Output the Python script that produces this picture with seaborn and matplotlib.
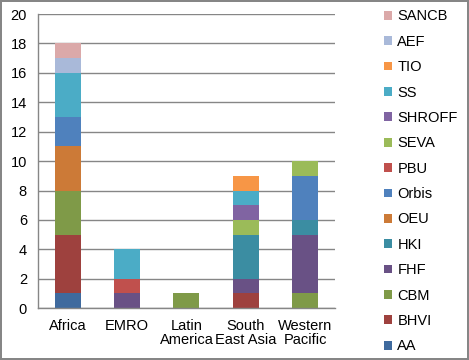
import matplotlib
matplotlib.use("Agg")
import matplotlib.pyplot as plt
from matplotlib.patches import Patch
import pandas as pd
import seaborn as sns

regions = ["Africa", "EMRO", "Latin\nAmerica", "South\nEast Asia", "Western\nPacific"]
orgs = ["AA", "BHVI", "CBM", "FHF", "HKI", "OEU", "Orbis", "PBU", "SEVA", "SHROFF", "SS", "TIO", "AEF", "SANCB"]
colors = ["#3F6A9E", "#9E413E", "#7F9A48", "#695185", "#3B8DA2", "#CC7A37", "#4F81BD",
          "#C0504D", "#9BBB59", "#8064A2", "#4BACC6", "#F79646", "#A9B9D9", "#DBA9A9"]

# counts per org, in region order
AA = [1, 0, 0, 0, 0]
BHVI = [4, 0, 0, 1, 0]
CBM = [3, 0, 1, 0, 1]
FHF = [0, 1, 0, 1, 4]
HKI = [0, 0, 0, 3, 1]
OEU = [3, 0, 0, 0, 0]
Orbis = [2, 0, 0, 0, 3]
PBU = [0, 1, 0, 0, 0]
SEVA = [0, 0, 0, 1, 1]
SHROFF = [0, 0, 0, 1, 0]
SS = [3, 2, 0, 1, 0]
TIO = [0, 0, 0, 1, 0]
AEF = [1, 0, 0, 0, 0]
SANCB = [1, 0, 0, 0, 0]
counts = [AA, BHVI, CBM, FHF, HKI, OEU, Orbis, PBU, SEVA, SHROFF, SS, TIO, AEF, SANCB]

rows = []
for org, vals in zip(orgs, counts):
    for reg, v in zip(regions, vals):
        rows.append({"region": reg, "org": org, "n": v})
df = pd.DataFrame(rows)
df["region"] = pd.Categorical(df["region"], categories=regions, ordered=True)

sns.set_style("white")
plt.rcParams["font.family"] = ["Liberation Sans", "DejaVu Sans"]

fig = plt.figure(figsize=(4.69, 3.6), dpi=100)
fig.patch.set_edgecolor("#868686")
fig.patch.set_linewidth(1.5)
ax = fig.add_axes([0.081, 0.144, 0.633, 0.817])

# seaborn stacks with the first hue level on top, so feed the order reversed
sns.histplot(data=df, x="region", weights="n", hue="org", hue_order=orgs[::-1],
             palette=colors[::-1], multiple="stack", discrete=True, shrink=0.44,
             linewidth=0, alpha=1, legend=False, ax=ax)

ax.set_ylim(0, 20)
ax.set_xlim(-0.5, 4.5)
ax.set_yticks(range(0, 21, 2))
ax.set_xticks(range(5))
ax.set_xticklabels(regions, linespacing=1.0, color="black")
ax.set_xticks([i - 0.5 for i in range(6)], minor=True)
ax.tick_params(axis="x", which="major", length=0, labelsize=10.5, pad=8)
ax.tick_params(axis="x", which="minor", length=5, color="#868686", direction="out")
ax.tick_params(axis="y", length=5, color="#868686", direction="out", labelsize=10.5,
               pad=3, labelcolor="black")
ax.set_xlabel("")
ax.set_ylabel("")
ax.grid(axis="y", color="#868686", linewidth=1)
ax.set_axisbelow(True)
for s in ["top", "right"]:
    ax.spines[s].set_visible(False)
for s in ["left", "bottom"]:
    ax.spines[s].set_color("#868686")
    ax.spines[s].set_linewidth(1)

handles = [Patch(facecolor=c, edgecolor="none") for c in colors][::-1]
fig.legend(handles, orgs[::-1], loc="upper left", bbox_to_anchor=(0.807, 0.99),
           frameon=False, fontsize=10.5, handlelength=0.55, handleheight=0.55,
           handletextpad=0.35, labelspacing=0.78, borderaxespad=0, labelcolor="black")

fig.savefig("out.png", dpi=100)
